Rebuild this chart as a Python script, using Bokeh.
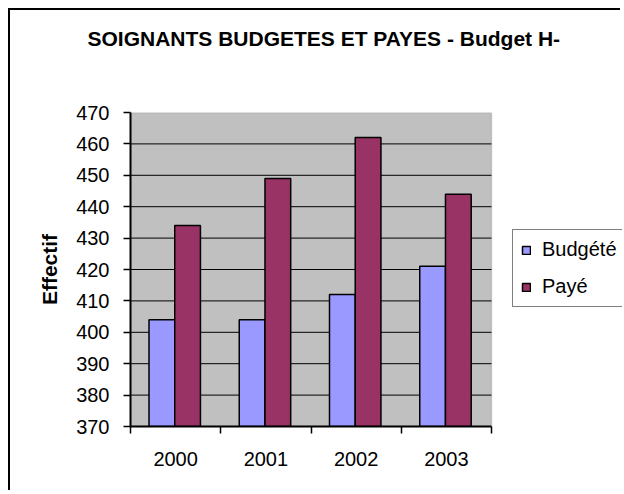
from bokeh.plotting import figure
from bokeh.models import (ColumnDataSource, FixedTicker, Legend, LegendItem, Range1d,
                          LinearAxis, Title, BoxAnnotation)
from bokeh.transform import dodge
from bokeh.embed import file_html
from bokeh.resources import INLINE

# ---- data ----
years = ["2000", "2001", "2002", "2003"]
budgete = [404, 404, 412, 421]
paye = [434, 449, 462, 444]
y_ticks = [370, 380, 390, 400, 410, 420, 430, 440, 450, 460, 470]
title_text = "SOIGNANTS BUDGETES ET PAYES - Budget H-"
y_label = "Effectif"
series_names = ["Budgété", "Payé"]
colors = ["#9999FF", "#993366"]

FONT = "Liberation Sans"

# layout (pixels)
W, H = 612, 482
LEFT, TOP, BOTTOM = 120, 102, 66
PLOT_W = 361                      # width of the grey plot area
FRAME_W = W - LEFT                # frame also holds the legend on the right
n = len(years)
x_end = n * FRAME_W / PLOT_W

centers = [i + 0.5 for i in range(n)]
src = ColumnDataSource(dict(x=centers, budgete=budgete, paye=paye))
grid_src = ColumnDataSource(dict(y=y_ticks[1:-1]))

p = figure(width=W, height=H,
           x_range=Range1d(0, x_end), y_range=Range1d(y_ticks[0], y_ticks[-1]),
           output_backend="svg", toolbar_location=None,
           min_border_left=LEFT, min_border_right=0,
           min_border_top=TOP, min_border_bottom=BOTTOM)
p.title = None
p.styles = {"border-left": "2px solid black", "border-top": "2px solid black",
            "margin-left": "8px", "margin-top": "8px"}

p.background_fill_color = "white"
p.border_fill_color = "white"
p.outline_line_color = None
p.xgrid.visible = False
p.ygrid.visible = False

# grey plot area
area = BoxAnnotation(left=0, right=n, bottom=y_ticks[0], top=y_ticks[-1],
                     fill_color="#C0C0C0", fill_alpha=1.0,
                     line_color="#808080", line_width=1.5, level="underlay")
p.add_layout(area)

# horizontal grid lines inside the plot area
p.segment(x0=0, x1=n, y0="y", y1="y", source=grid_src,
          line_color="black", line_width=1)

r1 = p.vbar(x=dodge("x", -0.1525), top="budgete", bottom=y_ticks[0], width=0.285,
            source=src, fill_color=colors[0], line_color="black", line_width=1.5)
r2 = p.vbar(x=dodge("x", 0.1325), top="paye", bottom=y_ticks[0], width=0.285,
            source=src, fill_color=colors[1], line_color="black", line_width=1.5)

# spacer between frame and title (invisible axis with one invisible tick)
spacer = LinearAxis(ticker=FixedTicker(ticks=[centers[0]], minor_ticks=[]),
                    major_label_overrides={centers[0]: ""},
                    major_label_text_font_size="1px", major_label_standoff=0,
                    major_tick_out=63, major_tick_in=0,
                    minor_tick_out=0, minor_tick_in=0, axis_line_color=None,
                    major_tick_line_color=None, minor_tick_line_color=None)
p.add_layout(spacer, "above")

title = Title(text=title_text, text_font=FONT, text_font_size="21px",
              text_font_style="bold", text_color="black", align="left",
              offset=-43, standoff=0, vertical_align="bottom")
p.add_layout(title, "above")

# y axis
yax = p.left[0]
yax.ticker = FixedTicker(ticks=y_ticks)
yax.axis_line_color = "black"
yax.axis_line_width = 2
yax.major_tick_out = 7
yax.major_tick_in = 0
yax.major_tick_line_color = "black"
yax.major_tick_line_width = 1.5
yax.minor_tick_line_color = None
yax.major_label_text_font = FONT
yax.major_label_text_font_size = "20px"
yax.major_label_text_color = "black"
yax.major_label_standoff = 14
yax.axis_label = y_label
yax.axis_label_text_font = FONT
yax.axis_label_text_font_size = "21px"
yax.axis_label_text_font_style = "bold"
yax.axis_label_text_color = "black"
yax.axis_label_standoff = 12

# x axis
xax = p.below[0]
xax.bounds = (0, n)
xax.ticker = FixedTicker(ticks=centers, minor_ticks=list(range(n + 1)))
xax.major_label_overrides = {c: y for c, y in zip(centers, years)}
xax.axis_line_color = "black"
xax.axis_line_width = 2
xax.major_tick_out = 0
xax.major_tick_in = 0
xax.major_tick_line_color = None
xax.minor_tick_out = 7
xax.minor_tick_in = 0
xax.minor_tick_line_color = "black"
xax.minor_tick_line_width = 1.5
xax.major_label_text_font = FONT
xax.major_label_text_font_size = "20px"
xax.major_label_text_color = "black"
xax.major_label_standoff = 18

# legend (inside the wide frame, right of the grey area)
legend = Legend(items=[LegendItem(label=series_names[0], renderers=[r1]),
                       LegendItem(label=series_names[1], renderers=[r2])],
                location=(PLOT_W + 21, 119), orientation="vertical",
                label_text_font=FONT, label_text_font_size="20px",
                label_text_color="black",
                glyph_width=10, glyph_height=10, label_standoff=11,
                label_height=23, spacing=14, padding=8, margin=0,
                border_line_color="black", border_line_width=1.5,
                background_fill_color="white", background_fill_alpha=1.0)
p.add_layout(legend)

open("out.html", "w").write(file_html(p, INLINE))
